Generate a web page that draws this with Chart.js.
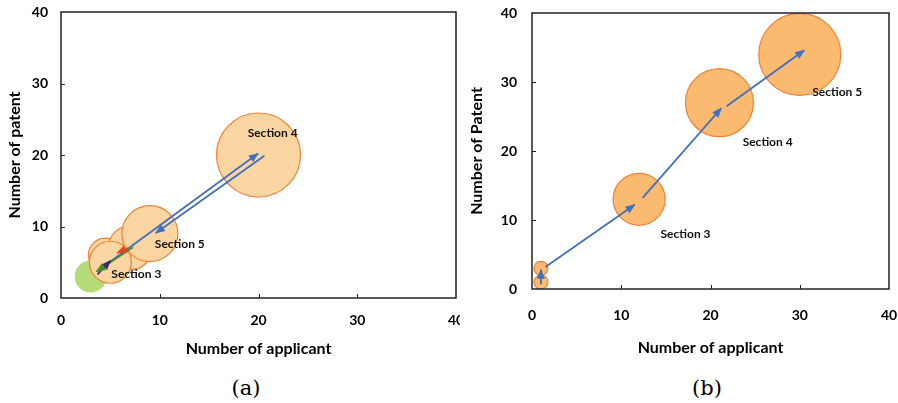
<!DOCTYPE html>
<html>
<head>
<meta charset="utf-8">
<script src="https://cdn.jsdelivr.net/npm/chart.js@4/dist/chart.umd.min.js"></script>
<style>
  body { margin: 0; background: #fff; width: 898px; height: 403px; position: relative; overflow: hidden; }
  canvas { position: absolute; top: 0; }
  .cap { position: absolute; top: 376px; width: 60px; text-align: center; font: 21px "DejaVu Serif"; line-height: 24px; color: #000; }
</style>
</head>
<body>
<canvas id="chartA" width="460" height="365" style="left:0"></canvas>
<canvas id="chartB" width="438" height="365" style="left:460px"></canvas>
<div class="cap" style="left:216px">(a)</div>
<div class="cap" style="left:677px">(b)</div>
<script>
// (a) bubbles: applicants, patents, bubble radius
const aApplicant = [3, 20, 4.5, 7, 9, 5]
const aPatent = [3, 20, 6, 7, 9, 5]
const aSize = [16, 42, 17, 22, 28, 21]
// (a) arrows
const aArrowX0 = [3.7, 7.3, 6.8, 4.8, 20.6]
const aArrowY0 = [3.3, 7.1, 7.0, 4.9, 19.9]
const aArrowX1 = [5.0, 3.6, 5.7, 19.95, 9.6]
const aArrowY1 = [5.2, 3.7, 6.3, 20.2, 9.1]
// (a) section labels
const aLabels = ['Section 4', 'Section 5', 'Section 3']
const aLabelX = [18.9, 9.5, 5.1]
const aLabelY = [23.1, 7.55, 3.4]

// (b) bubbles
const bApplicant = [1, 1, 12, 21, 30]
const bPatent = [1, 3, 13, 27, 34]
const bSize = [7, 7, 26, 34, 41]
// (b) arrows
const bArrowX0 = [1, 1.5, 12.4, 21.8]
const bArrowY0 = [0.7, 3.2, 13.2, 26.5]
const bArrowX1 = [1, 11.5, 21.2, 30.5]
const bArrowY1 = [2.8, 12.2, 26.2, 34.6]
// (b) section labels
const bLabels = ['Section 5', 'Section 4', 'Section 3']
const bLabelX = [31.4, 23.6, 14.4]
const bLabelY = [28.6, 21.3, 8.0]

const tickValues = [0, 10, 20, 30, 40]

const font = 'Lato'

// arrow heads, section labels, frame and inner tick marks
const extras = {
  id: 'extras',
  afterDatasetsDraw(chart) {
    const { ctx, chartArea: a, scales: { x, y } } = chart
    const o = chart.options.plugins.extras
    ctx.save()
    chart.data.datasets.forEach((ds, i) => {
      if (ds.type !== 'line') return
      const pts = chart.getDatasetMeta(i).data
      const p0 = pts[0], p1 = pts[1]
      const ang = Math.atan2(p1.y - p0.y, p1.x - p0.x)
      const c = Math.cos(ang), s = Math.sin(ang)
      ctx.fillStyle = ds.borderColor
      ctx.beginPath()
      ctx.moveTo(p1.x + 1 * c, p1.y + 1 * s)
      ctx.lineTo(p1.x - 9 * c + 4 * s, p1.y - 9 * s - 4 * c)
      ctx.lineTo(p1.x - 9 * c - 4 * s, p1.y - 9 * s + 4 * c)
      ctx.closePath()
      ctx.fill()
    })

    ctx.fillStyle = '#111'
    ctx.font = 'bold 12px ' + font
    ctx.textAlign = 'left'
    ctx.textBaseline = 'middle'
    o.labels.forEach((t, i) => {
      ctx.fillText(t, x.getPixelForValue(o.labelX[i]), y.getPixelForValue(o.labelY[i]))
    })

    ctx.strokeStyle = '#222'
    ctx.lineWidth = 1.5
    ctx.strokeRect(a.left, a.top, a.width, a.height)
    ctx.lineWidth = 1
    ctx.beginPath()
    tickValues.slice(1, -1).forEach((v) => {
      const px = Math.round(x.getPixelForValue(v)) + 0.5
      ctx.moveTo(px, a.bottom)
      ctx.lineTo(px, a.bottom - 4)
      const py = Math.round(y.getPixelForValue(v)) + 0.5
      ctx.moveTo(a.left, py)
      ctx.lineTo(a.left + 4, py)
    })
    ctx.stroke()
    ctx.restore()
  },
}

function makeChart(id, p) {
  const bubbles = p.xs.map((v, i) => ({ x: v, y: p.ys[i], r: p.rs[i] }))
  const arrows = p.ax0.map((v, i) => ({
    type: 'line',
    data: [{ x: v, y: p.ay0[i] }, { x: p.ax1[i], y: p.ay1[i] }],
    borderColor: p.arrowColors[i],
    borderWidth: 1.8,
    pointRadius: 0,
    fill: false,
    order: 1,
  }))
  const tickFont = { family: font, weight: 'bold', size: 14 }
  const titleFont = { family: font, weight: 'bold', size: 16 }
  return new Chart(document.getElementById(id), {
    type: 'bubble',
    data: {
      datasets: [
        {
          data: bubbles,
          backgroundColor: p.fills,
          borderColor: p.borders,
          borderWidth: 1.2,
          order: 2,
        },
      ].concat(arrows),
    },
    options: {
      responsive: false,
      animation: false,
      events: [],
      layout: { padding: p.padding, autoPadding: false },
      plugins: {
        legend: { display: false },
        tooltip: { enabled: false },
        extras: { labels: p.labels, labelX: p.labelX, labelY: p.labelY },
      },
      scales: {
        x: {
          type: 'linear',
          min: 0,
          max: 40,
          ticks: { stepSize: 10, padding: p.xTickPad, color: '#000', font: tickFont },
          grid: { display: false, drawTicks: false },
          border: { display: false },
          title: { display: true, text: 'Number of applicant', color: '#000', font: titleFont, padding: { top: 0, bottom: p.xTitlePad } },
          afterFit(s) {
            s.height = p.xHeight
            s.paddingLeft = 0
            s.paddingRight = 0
          },
        },
        y: {
          type: 'linear',
          min: 0,
          max: 40,
          ticks: { stepSize: 10, padding: p.yTickPad, color: '#000', font: tickFont },
          grid: { display: false, drawTicks: false },
          border: { display: false },
          title: { display: true, text: p.yTitle, color: '#000', font: titleFont, padding: { top: p.yTitlePad, bottom: 0 } },
          afterFit(s) {
            s.width = p.yWidth
            s.paddingTop = 0
            s.paddingBottom = 0
          },
        },
      },
    },
    plugins: [extras],
  })
}

const peachA = 'rgb(252, 214, 162)'
const edge = 'rgb(241, 128, 52)'

makeChart('chartA', {
  xs: aApplicant, ys: aPatent, rs: aSize,
  fills: ['rgb(180, 219, 120)', peachA, peachA, peachA, peachA, peachA],
  borders: ['rgba(180, 219, 120, 0)', edge, edge, edge, edge, edge],
  ax0: aArrowX0, ay0: aArrowY0, ax1: aArrowX1, ay1: aArrowY1,
  arrowColors: ['#3d2f6e', '#4f8a2c', '#e8461e', '#3f6fc0', '#3f6fc0'],
  labels: aLabels, labelX: aLabelX, labelY: aLabelY,
  yTitle: 'Number of patent',
  padding: { left: 0, top: 12, right: 4, bottom: 0 },
  yWidth: 61, xHeight: 67,
  xTickPad: 14, yTickPad: 13, xTitlePad: 6.4, yTitlePad: 5.4,
})

makeChart('chartB', {
  xs: bApplicant, ys: bPatent, rs: bSize,
  fills: 'rgb(250, 186, 112)',
  borders: edge,
  ax0: bArrowX0, ay0: bArrowY0, ax1: bArrowX1, ay1: bArrowY1,
  arrowColors: ['#3f6fc0', '#3f6fc0', '#3f6fc0', '#3f6fc0'],
  labels: bLabels, labelX: bLabelX, labelY: bLabelY,
  yTitle: 'Number of Patent',
  padding: { left: 0, top: 13, right: 9, bottom: 0 },
  yWidth: 72, xHeight: 76,
  xTickPad: 18, yTickPad: 15, xTitlePad: 7.4, yTitlePad: 7.4,
})
</script>
</body>
</html>
